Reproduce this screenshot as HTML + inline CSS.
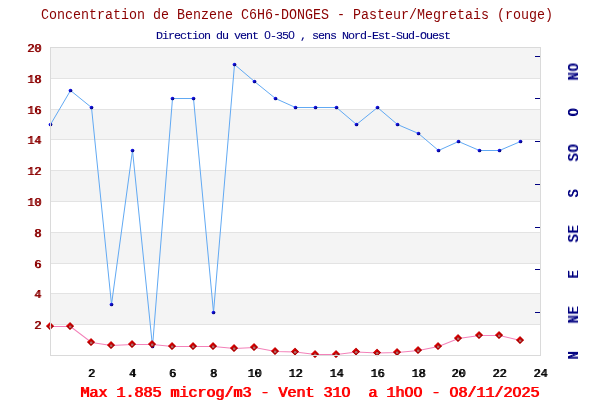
<!DOCTYPE html><html><head><meta charset="utf-8"><style>html,body{margin:0;padding:0;background:#fff;}svg{display:block}text{font-family:"Liberation Mono",monospace;}</style></head><body>
<svg width="600" height="400" viewBox="0 0 600 400">
<defs><linearGradient id="dg" x1="0" y1="0" x2="0" y2="1"><stop offset="0" stop-color="#ff1010"/><stop offset="0.5" stop-color="#e00000"/><stop offset="1" stop-color="#8a0000"/></linearGradient><linearGradient id="bg" x1="0.2" y1="0.2" x2="0.8" y2="0.8"><stop offset="0" stop-color="#1a1aff"/><stop offset="1" stop-color="#000078"/></linearGradient><filter id="hb" x="-25%" y="-25%" width="150%" height="150%"><feOffset in="SourceGraphic" dx="0.9" dy="0" result="o"/><feMerge><feMergeNode in="SourceGraphic"/><feMergeNode in="o"/></feMerge></filter><filter id="hb2" x="-25%" y="-25%" width="150%" height="150%"><feOffset in="SourceGraphic" dx="0.6" dy="0" result="o"/><feMerge><feMergeNode in="SourceGraphic"/><feMergeNode in="o"/></feMerge></filter></defs>
<rect width="600" height="400" fill="#fff"/>
<rect x="50" y="47" width="490" height="31" fill="#f4f4f4"/>
<rect x="50" y="109" width="490" height="30" fill="#f4f4f4"/>
<rect x="50" y="170" width="490" height="31" fill="#f4f4f4"/>
<rect x="50" y="232" width="490" height="31" fill="#f4f4f4"/>
<rect x="50" y="293" width="490" height="31" fill="#f4f4f4"/>
<rect x="50" y="324" width="490" height="1" fill="#e3e3e3"/>
<rect x="50" y="293" width="490" height="1" fill="#e3e3e3"/>
<rect x="50" y="263" width="490" height="1" fill="#e3e3e3"/>
<rect x="50" y="232" width="490" height="1" fill="#e3e3e3"/>
<rect x="50" y="201" width="490" height="1" fill="#e3e3e3"/>
<rect x="50" y="170" width="490" height="1" fill="#e3e3e3"/>
<rect x="50" y="139" width="490" height="1" fill="#e3e3e3"/>
<rect x="50" y="109" width="490" height="1" fill="#e3e3e3"/>
<rect x="50" y="78" width="490" height="1" fill="#e3e3e3"/>
<polyline points="50.5,124.5 70.5,90.5 91.5,107.5 111.5,304.5 132.5,150.5 152.5,346.5 172.5,98.5 193.5,98.5 213.5,312.5 234.5,64.5 254.5,81.5 275.5,98.5 295.5,107.5 315.5,107.5 336.5,107.5 356.5,124.5 377.5,107.5 397.5,124.5 418.5,133.5 438.5,150.5 458.5,141.5 479.5,150.5 499.5,150.5 520.5,141.5" fill="none" stroke="#61a9f3" stroke-width="1"/>
<circle cx="50.5" cy="124.5" r="1.85" fill="url(#bg)"/>
<circle cx="70.5" cy="90.5" r="1.85" fill="url(#bg)"/>
<circle cx="91.5" cy="107.5" r="1.85" fill="url(#bg)"/>
<circle cx="111.5" cy="304.5" r="1.85" fill="url(#bg)"/>
<circle cx="132.5" cy="150.5" r="1.85" fill="url(#bg)"/>
<circle cx="152.5" cy="346.5" r="1.85" fill="url(#bg)"/>
<circle cx="172.5" cy="98.5" r="1.85" fill="url(#bg)"/>
<circle cx="193.5" cy="98.5" r="1.85" fill="url(#bg)"/>
<circle cx="213.5" cy="312.5" r="1.85" fill="url(#bg)"/>
<circle cx="234.5" cy="64.5" r="1.85" fill="url(#bg)"/>
<circle cx="254.5" cy="81.5" r="1.85" fill="url(#bg)"/>
<circle cx="275.5" cy="98.5" r="1.85" fill="url(#bg)"/>
<circle cx="295.5" cy="107.5" r="1.85" fill="url(#bg)"/>
<circle cx="315.5" cy="107.5" r="1.85" fill="url(#bg)"/>
<circle cx="336.5" cy="107.5" r="1.85" fill="url(#bg)"/>
<circle cx="356.5" cy="124.5" r="1.85" fill="url(#bg)"/>
<circle cx="377.5" cy="107.5" r="1.85" fill="url(#bg)"/>
<circle cx="397.5" cy="124.5" r="1.85" fill="url(#bg)"/>
<circle cx="418.5" cy="133.5" r="1.85" fill="url(#bg)"/>
<circle cx="438.5" cy="150.5" r="1.85" fill="url(#bg)"/>
<circle cx="458.5" cy="141.5" r="1.85" fill="url(#bg)"/>
<circle cx="479.5" cy="150.5" r="1.85" fill="url(#bg)"/>
<circle cx="499.5" cy="150.5" r="1.85" fill="url(#bg)"/>
<circle cx="520.5" cy="141.5" r="1.85" fill="url(#bg)"/>
<polyline points="50.5,326.5 70.5,326.5 91.5,342.5 111.5,345.5 132.5,344.5 152.5,344.5 172.5,346.5 193.5,346.5 213.5,346.5 234.5,348.5 254.5,347.5 275.5,351.5 295.5,352.0 315.5,354.5 336.5,354.5 356.5,352.0 377.5,353.0 397.5,352.5 418.5,350.5 438.5,346.5 458.5,338.5 479.5,335.5 499.5,335.5 520.5,340.5" fill="none" stroke="#f381b9" stroke-width="1.1"/>
<g transform="translate(50,326)"><path d="M-3.85,0L0,-3.85L3.85,0L0,3.85Z" fill="#f40000"/><path d="M-3.85,0L3.85,0L0,3.85Z" fill="#b80000"/><path d="M0,-3.85L3.85,0L0,3.85Z" fill="#a00000" opacity="0.45"/><path d="M-2.4,0L0,-2.4L2.4,0L0,2.4Z" fill="#b00000" opacity="0.7"/><path d="M-3.55,0L0,-3.55L3.55,0L0,3.55Z" fill="none" stroke="#900000" stroke-width="0.6" opacity="0.6"/><circle cx="0.2" cy="0.7" r="1.3" fill="#b08080" opacity="0.85"/></g>
<g transform="translate(70,326)"><path d="M-3.85,0L0,-3.85L3.85,0L0,3.85Z" fill="#f40000"/><path d="M-3.85,0L3.85,0L0,3.85Z" fill="#b80000"/><path d="M0,-3.85L3.85,0L0,3.85Z" fill="#a00000" opacity="0.45"/><path d="M-2.4,0L0,-2.4L2.4,0L0,2.4Z" fill="#b00000" opacity="0.7"/><path d="M-3.55,0L0,-3.55L3.55,0L0,3.55Z" fill="none" stroke="#900000" stroke-width="0.6" opacity="0.6"/><circle cx="0.2" cy="0.7" r="1.3" fill="#b08080" opacity="0.85"/></g>
<g transform="translate(91,342)"><path d="M-3.85,0L0,-3.85L3.85,0L0,3.85Z" fill="#f40000"/><path d="M-3.85,0L3.85,0L0,3.85Z" fill="#b80000"/><path d="M0,-3.85L3.85,0L0,3.85Z" fill="#a00000" opacity="0.45"/><path d="M-2.4,0L0,-2.4L2.4,0L0,2.4Z" fill="#b00000" opacity="0.7"/><path d="M-3.55,0L0,-3.55L3.55,0L0,3.55Z" fill="none" stroke="#900000" stroke-width="0.6" opacity="0.6"/><circle cx="0.2" cy="0.7" r="1.3" fill="#b08080" opacity="0.85"/></g>
<g transform="translate(111,345)"><path d="M-3.85,0L0,-3.85L3.85,0L0,3.85Z" fill="#f40000"/><path d="M-3.85,0L3.85,0L0,3.85Z" fill="#b80000"/><path d="M0,-3.85L3.85,0L0,3.85Z" fill="#a00000" opacity="0.45"/><path d="M-2.4,0L0,-2.4L2.4,0L0,2.4Z" fill="#b00000" opacity="0.7"/><path d="M-3.55,0L0,-3.55L3.55,0L0,3.55Z" fill="none" stroke="#900000" stroke-width="0.6" opacity="0.6"/><circle cx="0.2" cy="0.7" r="1.3" fill="#b08080" opacity="0.85"/></g>
<g transform="translate(132,344)"><path d="M-3.85,0L0,-3.85L3.85,0L0,3.85Z" fill="#f40000"/><path d="M-3.85,0L3.85,0L0,3.85Z" fill="#b80000"/><path d="M0,-3.85L3.85,0L0,3.85Z" fill="#a00000" opacity="0.45"/><path d="M-2.4,0L0,-2.4L2.4,0L0,2.4Z" fill="#b00000" opacity="0.7"/><path d="M-3.55,0L0,-3.55L3.55,0L0,3.55Z" fill="none" stroke="#900000" stroke-width="0.6" opacity="0.6"/><circle cx="0.2" cy="0.7" r="1.3" fill="#b08080" opacity="0.85"/></g>
<g transform="translate(152,344)"><path d="M-3.85,0L0,-3.85L3.85,0L0,3.85Z" fill="#f40000"/><path d="M-3.85,0L3.85,0L0,3.85Z" fill="#b80000"/><path d="M0,-3.85L3.85,0L0,3.85Z" fill="#a00000" opacity="0.45"/><path d="M-2.4,0L0,-2.4L2.4,0L0,2.4Z" fill="#b00000" opacity="0.7"/><path d="M-3.55,0L0,-3.55L3.55,0L0,3.55Z" fill="none" stroke="#900000" stroke-width="0.6" opacity="0.6"/><circle cx="0.2" cy="0.7" r="1.3" fill="#b08080" opacity="0.85"/></g>
<g transform="translate(172,346)"><path d="M-3.85,0L0,-3.85L3.85,0L0,3.85Z" fill="#f40000"/><path d="M-3.85,0L3.85,0L0,3.85Z" fill="#b80000"/><path d="M0,-3.85L3.85,0L0,3.85Z" fill="#a00000" opacity="0.45"/><path d="M-2.4,0L0,-2.4L2.4,0L0,2.4Z" fill="#b00000" opacity="0.7"/><path d="M-3.55,0L0,-3.55L3.55,0L0,3.55Z" fill="none" stroke="#900000" stroke-width="0.6" opacity="0.6"/><circle cx="0.2" cy="0.7" r="1.3" fill="#b08080" opacity="0.85"/></g>
<g transform="translate(193,346)"><path d="M-3.85,0L0,-3.85L3.85,0L0,3.85Z" fill="#f40000"/><path d="M-3.85,0L3.85,0L0,3.85Z" fill="#b80000"/><path d="M0,-3.85L3.85,0L0,3.85Z" fill="#a00000" opacity="0.45"/><path d="M-2.4,0L0,-2.4L2.4,0L0,2.4Z" fill="#b00000" opacity="0.7"/><path d="M-3.55,0L0,-3.55L3.55,0L0,3.55Z" fill="none" stroke="#900000" stroke-width="0.6" opacity="0.6"/><circle cx="0.2" cy="0.7" r="1.3" fill="#b08080" opacity="0.85"/></g>
<g transform="translate(213,346)"><path d="M-3.85,0L0,-3.85L3.85,0L0,3.85Z" fill="#f40000"/><path d="M-3.85,0L3.85,0L0,3.85Z" fill="#b80000"/><path d="M0,-3.85L3.85,0L0,3.85Z" fill="#a00000" opacity="0.45"/><path d="M-2.4,0L0,-2.4L2.4,0L0,2.4Z" fill="#b00000" opacity="0.7"/><path d="M-3.55,0L0,-3.55L3.55,0L0,3.55Z" fill="none" stroke="#900000" stroke-width="0.6" opacity="0.6"/><circle cx="0.2" cy="0.7" r="1.3" fill="#b08080" opacity="0.85"/></g>
<g transform="translate(234,348)"><path d="M-3.85,0L0,-3.85L3.85,0L0,3.85Z" fill="#f40000"/><path d="M-3.85,0L3.85,0L0,3.85Z" fill="#b80000"/><path d="M0,-3.85L3.85,0L0,3.85Z" fill="#a00000" opacity="0.45"/><path d="M-2.4,0L0,-2.4L2.4,0L0,2.4Z" fill="#b00000" opacity="0.7"/><path d="M-3.55,0L0,-3.55L3.55,0L0,3.55Z" fill="none" stroke="#900000" stroke-width="0.6" opacity="0.6"/><circle cx="0.2" cy="0.7" r="1.3" fill="#b08080" opacity="0.85"/></g>
<g transform="translate(254,347)"><path d="M-3.85,0L0,-3.85L3.85,0L0,3.85Z" fill="#f40000"/><path d="M-3.85,0L3.85,0L0,3.85Z" fill="#b80000"/><path d="M0,-3.85L3.85,0L0,3.85Z" fill="#a00000" opacity="0.45"/><path d="M-2.4,0L0,-2.4L2.4,0L0,2.4Z" fill="#b00000" opacity="0.7"/><path d="M-3.55,0L0,-3.55L3.55,0L0,3.55Z" fill="none" stroke="#900000" stroke-width="0.6" opacity="0.6"/><circle cx="0.2" cy="0.7" r="1.3" fill="#b08080" opacity="0.85"/></g>
<g transform="translate(275,351)"><path d="M-3.85,0L0,-3.85L3.85,0L0,3.85Z" fill="#f40000"/><path d="M-3.85,0L3.85,0L0,3.85Z" fill="#b80000"/><path d="M0,-3.85L3.85,0L0,3.85Z" fill="#a00000" opacity="0.45"/><path d="M-2.4,0L0,-2.4L2.4,0L0,2.4Z" fill="#b00000" opacity="0.7"/><path d="M-3.55,0L0,-3.55L3.55,0L0,3.55Z" fill="none" stroke="#900000" stroke-width="0.6" opacity="0.6"/><circle cx="0.2" cy="0.7" r="1.3" fill="#b08080" opacity="0.85"/></g>
<g transform="translate(295,351.5)"><path d="M-3.85,0L0,-3.85L3.85,0L0,3.85Z" fill="#f40000"/><path d="M-3.85,0L3.85,0L0,3.85Z" fill="#b80000"/><path d="M0,-3.85L3.85,0L0,3.85Z" fill="#a00000" opacity="0.45"/><path d="M-2.4,0L0,-2.4L2.4,0L0,2.4Z" fill="#b00000" opacity="0.7"/><path d="M-3.55,0L0,-3.55L3.55,0L0,3.55Z" fill="none" stroke="#900000" stroke-width="0.6" opacity="0.6"/><circle cx="0.2" cy="0.7" r="1.3" fill="#b08080" opacity="0.85"/></g>
<g transform="translate(315,354)"><path d="M-3.85,0L0,-3.85L3.85,0L0,3.85Z" fill="#f40000"/><path d="M-3.85,0L3.85,0L0,3.85Z" fill="#b80000"/><path d="M0,-3.85L3.85,0L0,3.85Z" fill="#a00000" opacity="0.45"/><path d="M-2.4,0L0,-2.4L2.4,0L0,2.4Z" fill="#b00000" opacity="0.7"/><path d="M-3.55,0L0,-3.55L3.55,0L0,3.55Z" fill="none" stroke="#900000" stroke-width="0.6" opacity="0.6"/><circle cx="0.2" cy="0.7" r="1.3" fill="#b08080" opacity="0.85"/></g>
<g transform="translate(336,354)"><path d="M-3.85,0L0,-3.85L3.85,0L0,3.85Z" fill="#f40000"/><path d="M-3.85,0L3.85,0L0,3.85Z" fill="#b80000"/><path d="M0,-3.85L3.85,0L0,3.85Z" fill="#a00000" opacity="0.45"/><path d="M-2.4,0L0,-2.4L2.4,0L0,2.4Z" fill="#b00000" opacity="0.7"/><path d="M-3.55,0L0,-3.55L3.55,0L0,3.55Z" fill="none" stroke="#900000" stroke-width="0.6" opacity="0.6"/><circle cx="0.2" cy="0.7" r="1.3" fill="#b08080" opacity="0.85"/></g>
<g transform="translate(356,351.5)"><path d="M-3.85,0L0,-3.85L3.85,0L0,3.85Z" fill="#f40000"/><path d="M-3.85,0L3.85,0L0,3.85Z" fill="#b80000"/><path d="M0,-3.85L3.85,0L0,3.85Z" fill="#a00000" opacity="0.45"/><path d="M-2.4,0L0,-2.4L2.4,0L0,2.4Z" fill="#b00000" opacity="0.7"/><path d="M-3.55,0L0,-3.55L3.55,0L0,3.55Z" fill="none" stroke="#900000" stroke-width="0.6" opacity="0.6"/><circle cx="0.2" cy="0.7" r="1.3" fill="#b08080" opacity="0.85"/></g>
<g transform="translate(377,352.5)"><path d="M-3.85,0L0,-3.85L3.85,0L0,3.85Z" fill="#f40000"/><path d="M-3.85,0L3.85,0L0,3.85Z" fill="#b80000"/><path d="M0,-3.85L3.85,0L0,3.85Z" fill="#a00000" opacity="0.45"/><path d="M-2.4,0L0,-2.4L2.4,0L0,2.4Z" fill="#b00000" opacity="0.7"/><path d="M-3.55,0L0,-3.55L3.55,0L0,3.55Z" fill="none" stroke="#900000" stroke-width="0.6" opacity="0.6"/><circle cx="0.2" cy="0.7" r="1.3" fill="#b08080" opacity="0.85"/></g>
<g transform="translate(397,352)"><path d="M-3.85,0L0,-3.85L3.85,0L0,3.85Z" fill="#f40000"/><path d="M-3.85,0L3.85,0L0,3.85Z" fill="#b80000"/><path d="M0,-3.85L3.85,0L0,3.85Z" fill="#a00000" opacity="0.45"/><path d="M-2.4,0L0,-2.4L2.4,0L0,2.4Z" fill="#b00000" opacity="0.7"/><path d="M-3.55,0L0,-3.55L3.55,0L0,3.55Z" fill="none" stroke="#900000" stroke-width="0.6" opacity="0.6"/><circle cx="0.2" cy="0.7" r="1.3" fill="#b08080" opacity="0.85"/></g>
<g transform="translate(418,350)"><path d="M-3.85,0L0,-3.85L3.85,0L0,3.85Z" fill="#f40000"/><path d="M-3.85,0L3.85,0L0,3.85Z" fill="#b80000"/><path d="M0,-3.85L3.85,0L0,3.85Z" fill="#a00000" opacity="0.45"/><path d="M-2.4,0L0,-2.4L2.4,0L0,2.4Z" fill="#b00000" opacity="0.7"/><path d="M-3.55,0L0,-3.55L3.55,0L0,3.55Z" fill="none" stroke="#900000" stroke-width="0.6" opacity="0.6"/><circle cx="0.2" cy="0.7" r="1.3" fill="#b08080" opacity="0.85"/></g>
<g transform="translate(438,346)"><path d="M-3.85,0L0,-3.85L3.85,0L0,3.85Z" fill="#f40000"/><path d="M-3.85,0L3.85,0L0,3.85Z" fill="#b80000"/><path d="M0,-3.85L3.85,0L0,3.85Z" fill="#a00000" opacity="0.45"/><path d="M-2.4,0L0,-2.4L2.4,0L0,2.4Z" fill="#b00000" opacity="0.7"/><path d="M-3.55,0L0,-3.55L3.55,0L0,3.55Z" fill="none" stroke="#900000" stroke-width="0.6" opacity="0.6"/><circle cx="0.2" cy="0.7" r="1.3" fill="#b08080" opacity="0.85"/></g>
<g transform="translate(458,338)"><path d="M-3.85,0L0,-3.85L3.85,0L0,3.85Z" fill="#f40000"/><path d="M-3.85,0L3.85,0L0,3.85Z" fill="#b80000"/><path d="M0,-3.85L3.85,0L0,3.85Z" fill="#a00000" opacity="0.45"/><path d="M-2.4,0L0,-2.4L2.4,0L0,2.4Z" fill="#b00000" opacity="0.7"/><path d="M-3.55,0L0,-3.55L3.55,0L0,3.55Z" fill="none" stroke="#900000" stroke-width="0.6" opacity="0.6"/><circle cx="0.2" cy="0.7" r="1.3" fill="#b08080" opacity="0.85"/></g>
<g transform="translate(479,335)"><path d="M-3.85,0L0,-3.85L3.85,0L0,3.85Z" fill="#f40000"/><path d="M-3.85,0L3.85,0L0,3.85Z" fill="#b80000"/><path d="M0,-3.85L3.85,0L0,3.85Z" fill="#a00000" opacity="0.45"/><path d="M-2.4,0L0,-2.4L2.4,0L0,2.4Z" fill="#b00000" opacity="0.7"/><path d="M-3.55,0L0,-3.55L3.55,0L0,3.55Z" fill="none" stroke="#900000" stroke-width="0.6" opacity="0.6"/><circle cx="0.2" cy="0.7" r="1.3" fill="#b08080" opacity="0.85"/></g>
<g transform="translate(499,335)"><path d="M-3.85,0L0,-3.85L3.85,0L0,3.85Z" fill="#f40000"/><path d="M-3.85,0L3.85,0L0,3.85Z" fill="#b80000"/><path d="M0,-3.85L3.85,0L0,3.85Z" fill="#a00000" opacity="0.45"/><path d="M-2.4,0L0,-2.4L2.4,0L0,2.4Z" fill="#b00000" opacity="0.7"/><path d="M-3.55,0L0,-3.55L3.55,0L0,3.55Z" fill="none" stroke="#900000" stroke-width="0.6" opacity="0.6"/><circle cx="0.2" cy="0.7" r="1.3" fill="#b08080" opacity="0.85"/></g>
<g transform="translate(520,340)"><path d="M-3.85,0L0,-3.85L3.85,0L0,3.85Z" fill="#f40000"/><path d="M-3.85,0L3.85,0L0,3.85Z" fill="#b80000"/><path d="M0,-3.85L3.85,0L0,3.85Z" fill="#a00000" opacity="0.45"/><path d="M-2.4,0L0,-2.4L2.4,0L0,2.4Z" fill="#b00000" opacity="0.7"/><path d="M-3.55,0L0,-3.55L3.55,0L0,3.55Z" fill="none" stroke="#900000" stroke-width="0.6" opacity="0.6"/><circle cx="0.2" cy="0.7" r="1.3" fill="#b08080" opacity="0.85"/></g>
<rect x="50.5" y="47.5" width="490" height="308" fill="none" stroke="#dadada" stroke-width="1"/>
<rect x="535" y="312" width="5" height="1" fill="#000080"/>
<rect x="535" y="269" width="5" height="1" fill="#000080"/>
<rect x="535" y="227" width="5" height="1" fill="#000080"/>
<rect x="535" y="184" width="5" height="1" fill="#000080"/>
<rect x="535" y="141" width="5" height="1" fill="#000080"/>
<rect x="535" y="98" width="5" height="1" fill="#000080"/>
<rect x="535" y="56" width="5" height="1" fill="#000080"/>
<text x="41" y="19" font-size="15.2" fill="#8b0000" textLength="512" lengthAdjust="spacingAndGlyphs">Concentration de Benzene C6H6-DONGES - Pasteur/Megretais (rouge)</text>
<text x="156.09 162.09 168.09 174.09 180.09 186.09 192.09 198.09 204.09 210.09 216.09 222.09 228.09 234.09 240.09 246.09 252.09 258.09 264.35 270.09 276.09 282.09 288.35 294.09 300.09 306.09 312.09 318.09 324.09 330.09 336.09 342.09 348.09 354.09 360.09 366.09 372.09 378.09 384.09 390.09 396.09 402.09 408.09 414.09 420.09 426.09 432.09 438.09 444.09" y="39" font-size="11.7" fill="#000080" stroke="#000080" stroke-width="0.1" xml:space="preserve">Direction du vent <tspan font-family="Liberation Sans">0</tspan>-35<tspan font-family="Liberation Sans">0</tspan> , sens Nord-Est-Sud-Ouest</text>
<text x="34.0" y="329" font-size="12" font-weight="normal" fill="#8b0000" textLength="7" lengthAdjust="spacingAndGlyphs" filter="url(#hb)" text-rendering="geometricPrecision">2</text>
<text x="34.0" y="298" font-size="12" font-weight="normal" fill="#8b0000" textLength="7" lengthAdjust="spacingAndGlyphs" filter="url(#hb)" text-rendering="geometricPrecision">4</text>
<text x="34.0" y="268" font-size="12" font-weight="normal" fill="#8b0000" textLength="7" lengthAdjust="spacingAndGlyphs" filter="url(#hb)" text-rendering="geometricPrecision">6</text>
<text x="34.0" y="237" font-size="12" font-weight="normal" fill="#8b0000" textLength="7" lengthAdjust="spacingAndGlyphs" filter="url(#hb)" text-rendering="geometricPrecision">8</text>
<text x="27.0" y="206" font-size="12" font-weight="normal" fill="#8b0000" textLength="14" lengthAdjust="spacingAndGlyphs" filter="url(#hb)" text-rendering="geometricPrecision">10</text>
<text x="27.0" y="175" font-size="12" font-weight="normal" fill="#8b0000" textLength="14" lengthAdjust="spacingAndGlyphs" filter="url(#hb)" text-rendering="geometricPrecision">12</text>
<text x="27.0" y="144" font-size="12" font-weight="normal" fill="#8b0000" textLength="14" lengthAdjust="spacingAndGlyphs" filter="url(#hb)" text-rendering="geometricPrecision">14</text>
<text x="27.0" y="114" font-size="12" font-weight="normal" fill="#8b0000" textLength="14" lengthAdjust="spacingAndGlyphs" filter="url(#hb)" text-rendering="geometricPrecision">16</text>
<text x="27.0" y="83" font-size="12" font-weight="normal" fill="#8b0000" textLength="14" lengthAdjust="spacingAndGlyphs" filter="url(#hb)" text-rendering="geometricPrecision">18</text>
<text x="27.0" y="52" font-size="12" font-weight="normal" fill="#8b0000" textLength="14" lengthAdjust="spacingAndGlyphs" filter="url(#hb)" text-rendering="geometricPrecision">20</text>
<text x="87.7" y="377" font-size="12" font-weight="normal" fill="#000" textLength="7" lengthAdjust="spacingAndGlyphs" filter="url(#hb)" text-rendering="geometricPrecision">2</text>
<text x="128.7" y="377" font-size="12" font-weight="normal" fill="#000" textLength="7" lengthAdjust="spacingAndGlyphs" filter="url(#hb)" text-rendering="geometricPrecision">4</text>
<text x="168.7" y="377" font-size="12" font-weight="normal" fill="#000" textLength="7" lengthAdjust="spacingAndGlyphs" filter="url(#hb)" text-rendering="geometricPrecision">6</text>
<text x="209.7" y="377" font-size="12" font-weight="normal" fill="#000" textLength="7" lengthAdjust="spacingAndGlyphs" filter="url(#hb)" text-rendering="geometricPrecision">8</text>
<text x="247.2" y="377" font-size="12" font-weight="normal" fill="#000" textLength="14" lengthAdjust="spacingAndGlyphs" filter="url(#hb)" text-rendering="geometricPrecision">10</text>
<text x="288.2" y="377" font-size="12" font-weight="normal" fill="#000" textLength="14" lengthAdjust="spacingAndGlyphs" filter="url(#hb)" text-rendering="geometricPrecision">12</text>
<text x="329.2" y="377" font-size="12" font-weight="normal" fill="#000" textLength="14" lengthAdjust="spacingAndGlyphs" filter="url(#hb)" text-rendering="geometricPrecision">14</text>
<text x="370.2" y="377" font-size="12" font-weight="normal" fill="#000" textLength="14" lengthAdjust="spacingAndGlyphs" filter="url(#hb)" text-rendering="geometricPrecision">16</text>
<text x="411.2" y="377" font-size="12" font-weight="normal" fill="#000" textLength="14" lengthAdjust="spacingAndGlyphs" filter="url(#hb)" text-rendering="geometricPrecision">18</text>
<text x="451.2" y="377" font-size="12" font-weight="normal" fill="#000" textLength="14" lengthAdjust="spacingAndGlyphs" filter="url(#hb)" text-rendering="geometricPrecision">20</text>
<text x="492.2" y="377" font-size="12" font-weight="normal" fill="#000" textLength="14" lengthAdjust="spacingAndGlyphs" filter="url(#hb)" text-rendering="geometricPrecision">22</text>
<text x="533.2" y="377" font-size="12" font-weight="normal" fill="#000" textLength="14" lengthAdjust="spacingAndGlyphs" filter="url(#hb)" text-rendering="geometricPrecision">24</text>
<text transform="translate(578,355.0) rotate(-90) scale(0.87,1)" x="-5.48" y="0" font-size="15.2" fill="#000080" filter="url(#hb2)">N</text>
<text transform="translate(578,314.5) rotate(-90) scale(0.87,1)" x="-10.652 -0.307" y="0" font-size="15.2" fill="#000080" filter="url(#hb2)">NE</text>
<text transform="translate(578,274.0) rotate(-90) scale(0.87,1)" x="-5.48" y="0" font-size="15.2" fill="#000080" filter="url(#hb2)">E</text>
<text transform="translate(578,233.5) rotate(-90) scale(0.87,1)" x="-10.652 -0.307" y="0" font-size="15.2" fill="#000080" filter="url(#hb2)">SE</text>
<text transform="translate(578,193.0) rotate(-90) scale(0.87,1)" x="-5.48" y="0" font-size="15.2" fill="#000080" filter="url(#hb2)">S</text>
<text transform="translate(578,152.5) rotate(-90) scale(0.87,1)" x="-10.652 -0.307" y="0" font-size="15.2" fill="#000080" filter="url(#hb2)">SO</text>
<text transform="translate(578,112.0) rotate(-90) scale(0.87,1)" x="-5.48" y="0" font-size="15.2" fill="#000080" filter="url(#hb2)">O</text>
<text transform="translate(578,71.5) rotate(-90) scale(0.87,1)" x="-10.652 -0.307" y="0" font-size="15.2" fill="#000080" filter="url(#hb2)">NO</text>
<text x="79.94 88.94 97.94 106.94 115.94 124.94 133.94 142.94 151.94 160.94 169.94 178.94 187.94 196.94 205.94 214.94 223.94 232.94 241.94 250.94 259.94 268.94 277.94 286.94 295.94 304.94 313.94 322.94 331.94 341.27 349.94 358.94 367.94 376.94 385.94 394.94 404.27 413.27 421.94 430.94 439.94 449.27 457.94 466.94 475.94 484.94 493.94 502.94 512.27 520.94 529.94" y="397" font-size="15.2" fill="#ff0000" xml:space="preserve" filter="url(#hb)">Max 1.885 microg/m3 - Vent 31<tspan font-family="Liberation Sans">0</tspan>  a 1h<tspan font-family="Liberation Sans">0</tspan><tspan font-family="Liberation Sans">0</tspan> - <tspan font-family="Liberation Sans">0</tspan>8/11/2<tspan font-family="Liberation Sans">0</tspan>25</text>
</svg></body></html>
